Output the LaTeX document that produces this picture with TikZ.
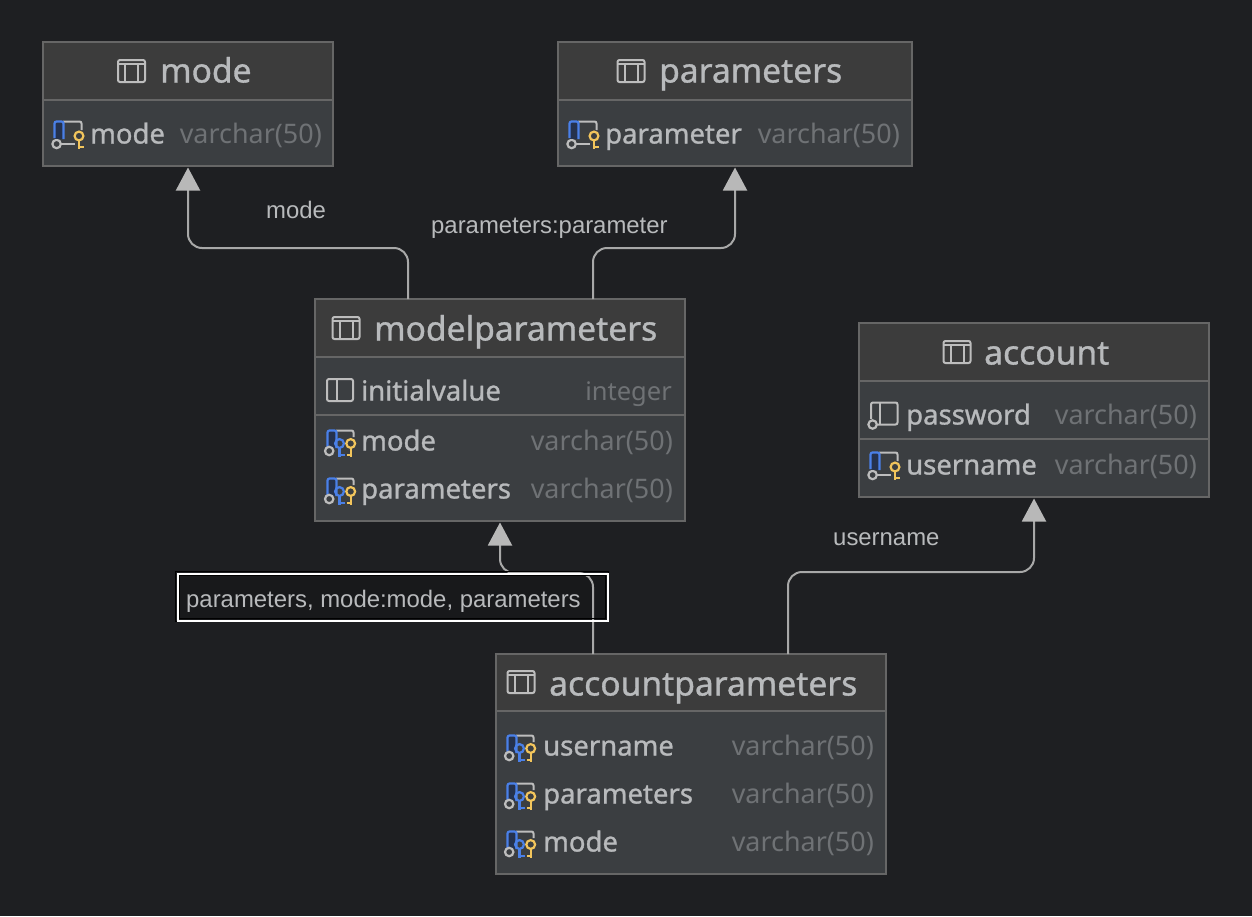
\documentclass[tikz,border=0pt]{standalone}
\usepackage{fontspec}
\usetikzlibrary{arrows.meta}
\newfontfamily\uifont[FakeBold=1.0]{Noto Sans}
\newfontfamily\uithin{Noto Sans}
\newfontfamily\lblfont{Liberation Sans}
\definecolor{bgc}{HTML}{1E1F22}
\definecolor{hdrc}{HTML}{3C3C3C}
\definecolor{bodyc}{HTML}{3B3E41}
\definecolor{edgec}{HTML}{666666}
\definecolor{txtc}{HTML}{B8BABC}
\definecolor{typec}{HTML}{6F7275}
\definecolor{linkc}{HTML}{A8A8A8}
\definecolor{tipc}{HTML}{B8B8B8}
\definecolor{bluec}{HTML}{4A80E8}
\definecolor{bluefill}{HTML}{25324D}
\definecolor{keyc}{HTML}{F2C55C}
\definecolor{icoc}{HTML}{BDBDBD}
\tikzset{
  tbl/.style={draw=edgec,fill=bodyc,line width=1.1pt,anchor=north west,inner sep=0pt,outer sep=0pt},
  seprule/.style={edgec,line width=1.6pt},
  conn/.style={draw=linkc,line width=2pt,rounded corners=14pt},
  connarrow/.style={conn,shorten >=1.5pt,-{Triangle[length=23pt,width=24pt,fill=tipc,color=tipc]}},
  title/.style={anchor=base west,inner sep=0pt,xshift=-1pt,yshift=-0.5pt,text=txtc,font=\uifont\fontsize{33.6}{34}\selectfont},
  colname/.style={anchor=base west,inner sep=0pt,xshift=-1pt,yshift=-0.5pt,text=txtc,font=\uifont\fontsize{27.5}{28}\selectfont},
  coltype/.style={anchor=base east,inner sep=0pt,yshift=-0.5pt,text=typec,font=\uithin\fontsize{26.9}{28}\selectfont},
  lbl/.style={anchor=base west,inner sep=0pt,text=txtc,font=\lblfont\fontsize{23.9}{25}\selectfont},
  ico/.style={line width=2pt,icoc,rounded corners=2pt},
  bluel/.style={line width=2.2pt,bluec},
  keyl/.style={line width=2.2pt,keyc},
  bkeyl/.style={line width=2.2pt,bluec}
}
% name, x, y, w, h, header height
\newcommand{\dbtable}[6]{
  \node[tbl,minimum width=#4pt,minimum height=#5pt] (#1) at (#2,#3) {};
  \fill[hdrc] (#2+0.6,#3+0.6) rectangle (#2+#4-0.6,#3+#6);
  \draw[seprule] (#2+0.6,#3+#6) -- (#2+#4-0.6,#3+#6);
}
\newcommand{\tableicon}[2]{
  \begin{scope}[shift={(#1,#2)}]
    \draw[ico] (-13.5,-11) rectangle (13.5,11);
    \draw[icoc,line width=2pt] (-13.5,-7) -- (13.5,-7) (-6.5,-7) -- (-6.5,11) (6.5,-7) -- (6.5,11);
  \end{scope}
}
\newcommand{\framepart}{
  \draw[ico] (10,0.5) -- (28.5,0.5) -- (28.5,9);
  \draw[icoc,line width=2pt] (7.5,22.7) -- (22,22.7);
  \draw[icoc,line width=2.2pt] (3.6,23) circle (4.2);
}
\newcommand{\bluebar}{
  \fill[bluefill] (2,1) rectangle (10,18);
  \draw[bluel,rounded corners=2pt] (1.5,17) -- (1.5,0.5) -- (10.5,0.5) -- (10.5,18);
}
\newcommand{\yellowkey}[1]{
  \draw[keyl] (#1,15) circle (4.4);
  \draw[keyl] (#1,19.5) -- (#1,27.5) (#1,25.8) -- (#1+5,25.8);
}
\newcommand{\bluekey}[1]{
  \draw[bkeyl] (#1,13.5) circle (4.4);
  \draw[bkeyl] (#1,18) -- (#1,26.5) (#1,24.8) -- (#1+5,24.8);
}
\newcommand{\onekey}[2]{
  \begin{scope}[shift={(#1,#2)}]
    \framepart \bluebar \yellowkey{26}
  \end{scope}
}
\newcommand{\twokey}[2]{
  \begin{scope}[shift={(#1,#2)}]
    \draw[ico] (10,0.5) -- (27.5,0.5) -- (27.5,7);
    \bluebar
    \draw[icoc,line width=2.2pt] (3.2,21) circle (4.2);
    \bluekey{13.5}
    \draw[keyl] (24.7,13.5) circle (4.4);
    \draw[keyl] (24.7,18) -- (24.7,26.5) (24.7,24.8) -- (21,24.8);
  \end{scope}
}
\newcommand{\plainkey}[2]{
  \begin{scope}[shift={(#1,#2)}]
    \draw[ico] (2,17) -- (2,0.5) -- (28.5,0.5) -- (28.5,22.5) -- (7.5,22.5);
    \draw[icoc,line width=2pt] (11,0.5) -- (11,22.5);
    \draw[icoc,line width=2.2pt,fill=bodyc] (3.6,22.5) circle (4.2);
  \end{scope}
}
\newcommand{\colicon}[2]{
  \begin{scope}[shift={(#1,#2)}]
    \draw[ico] (0,0) rectangle (26,22);
    \draw[icoc,line width=2pt] (9.5,0) -- (9.5,22);
  \end{scope}
}
\begin{document}
\begin{tikzpicture}[x=1pt,y=-1pt]
\useasboundingbox (0,0) rectangle (1252,916);
\fill[bgc] (0,0) rectangle (1252,916);

\dbtable{tmode}{43}{42}{290}{124}{58}
\dbtable{tparams}{558}{42}{354}{124}{58}
\dbtable{tmodelp}{315}{299}{370}{222}{58}
\dbtable{taccount}{859}{323}{350}{174}{58}
\dbtable{taccp}{496}{654}{390}{220}{57}
\draw[seprule] (315.6,415) -- (684.4,415);
\draw[seprule] (859.6,439) -- (1208.4,439);

% connectors
\draw[connarrow] ([xshift=93pt]tmodelp.north west) -- ++(0,-51) -| (tmode.south);
\draw[connarrow] ([xshift=278pt]tmodelp.north west) -- ++(0,-51) -| (tparams.south);
\draw[connarrow] ([xshift=292pt]taccp.north west) -- ++(0,-82) -| (taccount.south);

% label box background, then the connector that shows through it
\fill[bgc!80!black] (178,574) rectangle (607,620);
\draw[connarrow] ([xshift=97pt]taccp.north west) -- ++(0,-81) -| (tmodelp.south);
\node[draw=black,line width=1.4pt,minimum width=433pt,minimum height=50pt,anchor=north west,inner sep=0pt,outer sep=0pt] (boxouter) at (175.7,571.7) {};
\node[draw=black,line width=1.2pt,minimum width=426.5pt,minimum height=43.5pt,anchor=north west,inner sep=0pt,outer sep=0pt] (boxinner) at (179.2,575.2) {};
\node[draw=white,line width=2pt,minimum width=430pt,minimum height=47pt,anchor=north west,inner sep=0pt,outer sep=0pt] (boxwhite) at (177.5,573.5) {};

% labels
\node[lbl] (lmode) at (266,218) {mode};
\node[lbl] (lparam) at (431,233) {parameters:parameter};
\node[lbl] (luser) at (833,545) {username};
\node[lbl] (lbox) at (186,607) {parameters, mode:mode, parameters};

% mode
\tableicon{131.5}{71}
\node[title] (n1) at (161,82) {mode};
\onekey{53}{121}
\node[colname] (n2) at (91,143) {mode};
\node[coltype] (n3) at (322,143) {varchar(50)};

% parameters
\tableicon{631}{71}
\node[title] (n4) at (660,82) {parameters};
\onekey{568}{121}
\node[colname] (n5) at (606,143) {parameter};
\node[coltype] (n6) at (900,143) {varchar(50)};

% modelparameters
\tableicon{346}{328}
\node[title] (n7) at (375,340) {modelparameters};
\colicon{327}{379}
\node[colname] (n8) at (362,400) {initialvalue};
\node[coltype,font=\uithin\fontsize{25.5}{28}\selectfont] (n9) at (672,400) {integer};
\twokey{326}{430}
\node[colname] (n10) at (362,450) {mode};
\node[coltype] (n11) at (673,450) {varchar(50)};
\twokey{326}{478}
\node[colname] (n12) at (362,498) {parameters};
\node[coltype] (n13) at (673,498) {varchar(50)};

% account
\tableicon{957}{352}
\node[title] (n14) at (985,364) {account};
\plainkey{869}{402}
\node[colname] (n15) at (907,424) {password};
\node[coltype] (n16) at (1197,424) {varchar(50)};
\onekey{869}{452}
\node[colname] (n17) at (907,474) {username};
\node[coltype] (n18) at (1197,474) {varchar(50)};

% accountparameters
\tableicon{521}{682}
\node[title] (n19) at (550,695) {accountparameters};
\twokey{506}{735}
\node[colname] (n20) at (544,755) {username};
\node[coltype] (n21) at (874,755) {varchar(50)};
\twokey{506}{783}
\node[colname] (n22) at (544,803) {parameters};
\node[coltype] (n23) at (874,803) {varchar(50)};
\twokey{506}{831}
\node[colname] (n24) at (544,851) {mode};
\node[coltype] (n25) at (874,851) {varchar(50)};
\end{tikzpicture}
\end{document}
